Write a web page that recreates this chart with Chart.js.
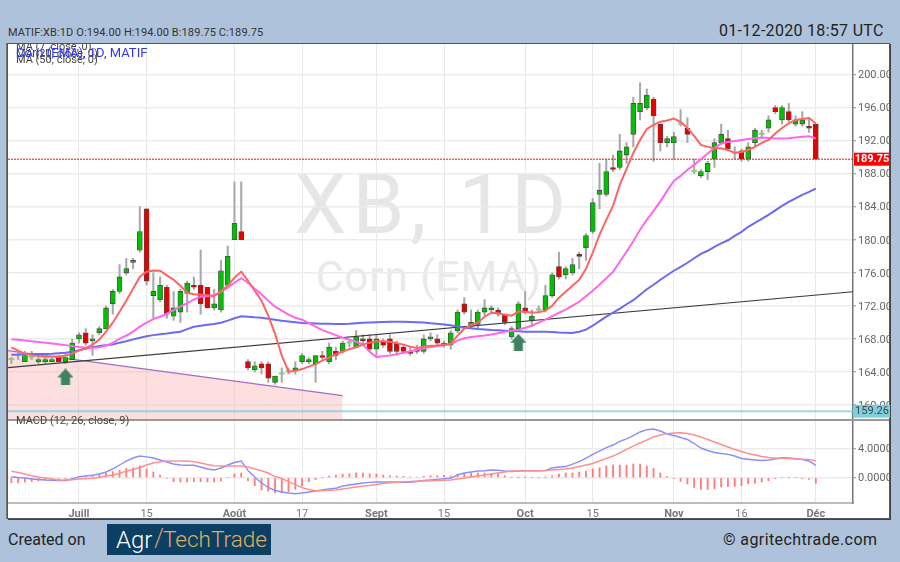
<!DOCTYPE html>
<html>
<head>
<meta charset="utf-8">
<script src="https://cdn.jsdelivr.net/npm/chart.js@4"></script>
<style>
html, body { margin: 0; padding: 0; background: #aec2dc; overflow: hidden; }
body { width: 900px; height: 562px; position: relative; font-family: Roboto, sans-serif; }
div, canvas { position: absolute; }
.txt { white-space: nowrap; }
#panel { left: 7px; top: 43px; width: 881px; height: 474px; background: #fff; border: 1px solid #555; box-shadow: -1px 0 0 #777, 1px 1px 0 #444; }
#sep { left: 8px; top: 419px; width: 881px; height: 2px; background: #999; }
#clip { left: 8px; top: 44px; width: 400px; height: 30px; overflow: hidden; }
#clip .txt { left: 8px; font-size: 11px; color: #444; }
#logo { left: 107px; top: 524px; width: 164px; height: 31px; background: #0b3f63; }
</style>
</head>
<body>
<div class="txt" style="left:8px;top:26px;font-size:11px;color:#333;letter-spacing:.1px">MATIF:XB:1D O:194.00 H:194.00 B:189.75 C:189.75</div>
<div class="txt" style="left:719px;top:21px;font-size:16px;color:#222;letter-spacing:.3px">01-12-2020 18:57 UTC</div>
<div id="panel"></div>
<div class="txt" style="left:294px;top:155px;font-size:84px;color:#e6e6e6;letter-spacing:5.5px">XB, 1D</div>
<div class="txt" style="left:316px;top:252px;font-size:42px;color:#e9e9e9;letter-spacing:1px">Corn (EMA)</div>
<canvas id="mainChart" width="882" height="376" style="left:8px;top:44px"></canvas>
<canvas id="macdChart" width="882" height="98" style="left:8px;top:420px"></canvas>
<div id="sep"></div>
<div id="clip">
  <div class="txt" style="top:-4px">MA (7, close, 0)</div>
  <div class="txt" style="top:3px">MA (20, close, 0)</div>
  <div class="txt" style="top:9px">MA (50, close, 0)</div>
  <div class="txt" style="top:1px;font-size:13px;color:#3535f0">Corn (EMA), 1D, MATIF</div>
</div>
<div class="txt" style="left:16px;top:414px;font-size:11px;color:#444">MACD (12, 26, close, 9)</div>
<div class="txt" style="left:8px;top:530px;font-size:16px;color:#222">Created on</div>
<div id="logo">
  <div class="txt" style="left:9px;top:2px;font-size:24px;font-weight:300;color:#fff">Agr</div>
  <div class="txt" style="left:47px;top:0;font-size:25px;font-weight:300;color:#c9a25a">/</div>
  <div class="txt" style="left:56px;top:2px;font-size:22.5px;font-weight:300;color:#e0ae5e">TechTrade</div>
</div>
<div class="txt" style="left:723px;top:530px;font-size:16px;color:#222;letter-spacing:.4px">© agritechtrade.com</div>

<script>
// candles, one row of ten per line
const openVals = [
    165.5, 166, 165.25, 165.75, 165.25, 165.25, 165.25, 165.75, 165.25, 165.5,
    168, 168.75, 167.75, 168.75, 169.25, 172.25, 173.75, 176, 177.25, 178.75,
    183.75, 173.25, 172.75, 174.25, 170.75, 171.25, 173.5, 174.5, 174.5, 174.25,
    171.75, 171.5, 174.5, 180, 181, 165.25, 164.25, 165, 165, 162.75,
    163.75, 164, 164.25, 165.25, 165.25, 165, 166, 165.25, 166.5, 166.5,
    167.5, 167, 168, 168, 166.75, 167.75, 168, 167.5, 167, 166.5,
    166.75, 166.5, 168, 168, 167.25, 167.25, 169, 172.25, 169.5, 169.75,
    171.25, 171.5, 171.5, 171, 168.25, 169.25, 171.75, 170.25, 171.5, 171.5,
    173.25, 176.75, 175.75, 176, 178.25, 179, 181, 185.5, 185.5, 188.75,
    188.75, 190.25, 192.75, 195.5, 196, 197, 194, 191.75, 191.75, 194,
    193.5, 188.25, 187.75, 188.25, 189.75, 191.75, 192.25, 190.5, 190.75, 189.75,
    191.75, 192.75, 193.5, 196, 194.5, 195.5, 194, 194, 193.75, 194,
];
const closeVals = [
    165.5, 166, 166, 165.75, 165.5, 165.5, 165.5, 165.25, 165.75, 167.5,
    168.5, 167.5, 168, 169.25, 171.75, 173.75, 175.5, 176.5, 177.5, 181,
    175, 173.75, 174.5, 171, 171.75, 173.75, 174.75, 174.25, 172.25, 171.75,
    172.25, 176.25, 178, 182, 180, 164.5, 164.75, 164.5, 163.25, 163.5,
    163.75, 164, 164.5, 166, 165.5, 166, 165.75, 167, 166, 167.5,
    167.5, 168.25, 167.75, 166.75, 168, 167.25, 166.5, 166.5, 166.5, 166.25,
    166.5, 168, 168.25, 167.5, 167.5, 168.75, 171.25, 171.25, 170, 171.25,
    171.75, 171.75, 171, 170, 169.25, 172.25, 171.25, 170.75, 171.5, 173.25,
    175.75, 175.5, 176.5, 177, 178, 180.5, 184.5, 186, 188.25, 188.5,
    190.75, 191.25, 196.5, 196.5, 197.5, 195, 191.75, 192.25, 192.5, 194,
    192.75, 188.25, 188.25, 189.25, 191.75, 192.75, 191, 190.5, 189.75, 191.25,
    193.25, 192.75, 194.5, 195.5, 196, 194.5, 194.5, 194.5, 193.5, 189.75,
];
const highVals = [
    165.75, 166.5, 166.5, 166.5, 166.25, 166, 165.75, 166, 166.25, 168,
    168.75, 169.25, 168.5, 169.5, 172, 174, 177, 177.75, 177.75, 184,
    183.75, 176, 175.5, 174.5, 173.75, 174, 175, 175.5, 178.75, 174.25,
    174, 177.5, 179.25, 187, 187, 165.5, 165.25, 165.25, 165.25, 163.5,
    164.5, 164.5, 165.25, 166.25, 165.75, 166, 166.5, 167.5, 167, 167.75,
    167.75, 169, 168.5, 168.5, 168.5, 168, 168.5, 167.75, 167.25, 167,
    167.25, 168.5, 168.75, 168.5, 167.75, 169, 171.5, 173, 171.5, 171.5,
    172.75, 172, 171.75, 171, 169.5, 172.5, 173.75, 171.5, 172, 174.5,
    176, 178.5, 176.75, 177.75, 178.5, 180.75, 185, 189.25, 189.75, 190.25,
    192.75, 191.75, 197.25, 199, 198.25, 197.25, 194, 192.5, 193, 195.75,
    194.75, 189.75, 188.5, 189.5, 192.25, 194, 193.25, 191.25, 191, 191.75,
    193.5, 193.25, 195, 196.25, 196.25, 196.5, 195, 195.5, 194.75, 194,
];
const lowVals = [
    165, 165.5, 165.25, 165.5, 165, 165, 165.25, 165.25, 165, 165.5,
    167.5, 167.25, 166, 168.5, 169.25, 171, 173.5, 175.75, 176.5, 178.5,
    174.5, 170.5, 172.5, 170.5, 170.25, 170, 171.25, 174, 171, 171.75,
    171.5, 171.25, 174.25, 180, 180, 164.25, 164, 163.75, 162.75, 162.5,
    162.75, 163.75, 163.75, 165, 165, 162.75, 165.5, 165, 165.5, 166.25,
    167, 167, 167.25, 166.5, 166, 167, 166.25, 166, 166.25, 166,
    166.25, 166.25, 167.75, 167.25, 167, 166.75, 168.75, 171, 169.25, 169.25,
    170.75, 171.25, 170.75, 169.75, 168, 169, 171, 169.5, 171.25, 171.25,
    173, 175.25, 175.25, 175.75, 176.5, 177.5, 180.75, 183.75, 185.25, 188.25,
    188.5, 189.25, 191.25, 194.5, 195.75, 189.5, 190.75, 191.25, 189.75, 193.75,
    191.75, 188, 187.5, 187.25, 188.75, 191.5, 190.75, 189.75, 189.5, 189.5,
    191.25, 192.25, 193, 195.25, 194, 194.25, 193.75, 193.75, 193, 189.75,
];

// moving averages
const ema7Vals = [
    166.97, 166.58, 166.22, 166.04, 165.92, 165.86, 165.86, 165.88, 165.98, 166.22,
    166.58, 166.88, 167.3, 167.91, 168.88, 169.97, 171.3, 172.62, 174.07, 175.52,
    176.13, 176.29, 176.25, 175.7, 175.16, 174.44, 173.59, 173.41, 173.35, 173.29,
    173.23, 173.77, 174.44, 175.4, 176.13, 175.04, 173.83, 172.62, 170.81, 168.64,
    165.98, 164.04, 164.16, 164.35, 164.65, 164.95, 165.37, 165.74, 166.16, 166.46,
    166.76, 167, 167.31, 167.55, 167.71, 167.73, 167.67, 167.49, 167.31, 167.07,
    166.91, 167.07, 167.19, 167.22, 167.27, 167.43, 168.4, 169.24, 169.66, 169.97,
    170.69, 171.17, 171.11, 170.93, 170.81, 171.33, 171.3, 171.21, 171.23, 171.42,
    172.02, 172.99, 173.71, 174.44, 175.16, 176.49, 178.43, 180.6, 182.41, 184.1,
    186.64, 188.58, 190.51, 192.08, 193.41, 193.89, 194.29, 194.44, 194.66, 194.26,
    193.53, 192.57, 191.48, 191.24, 191.08, 191.08, 190.87, 190.51, 190.63, 190.87,
    191.24, 191.72, 192.08, 192.87, 193.53, 194.1, 194.5, 194.62, 194.74, 194.08,
];
const ema20Vals = [
    167.96, 167.91, 167.81, 167.71, 167.63, 167.55, 167.45, 167.36, 167.25, 167.13,
    167.01, 166.92, 166.94, 166.98, 167.19, 167.51, 168.03, 168.4, 168.88, 169.48,
    169.97, 170.39, 170.69, 171.05, 171.48, 171.9, 172.32, 172.75, 173.11, 173.17,
    173.23, 173.71, 174.2, 174.8, 175.34, 174.8, 174.08, 173.41, 172.62, 171.9,
    171.42, 170.93, 170.57, 170.33, 169.91, 169.48, 169.06, 168.76, 168.46, 168.15,
    167.91, 167.67, 167.31, 166.46, 165.8, 165.92, 166, 166.16, 166.34, 166.5,
    166.7, 166.88, 167.03, 167.15, 167.22, 167.37, 167.79, 168.09, 168.24, 168.33,
    168.42, 168.54, 168.7, 168.88, 169, 169.12, 169.36, 169.6, 169.97, 170.33,
    170.75, 171.17, 171.54, 172.02, 172.5, 173.17, 173.83, 174.56, 175.34, 176.13,
    177.34, 178.55, 179.82, 181.21, 182.41, 183.5, 184.65, 185.92, 187.13, 187.73,
    188.46, 189.06, 189.73, 190.45, 191.12, 191.66, 191.84, 191.96, 192.08, 192.2,
    192.29, 192.38, 192.32, 192.26, 192.24, 192.29, 192.38, 192.47, 192.53, 192.26,
];
const ema50Vals = [
    166.1, 166.12, 166.16, 166.18, 166.18, 166.18, 166.2, 166.28, 166.34, 166.46,
    166.64, 166.82, 167.01, 167.15, 167.25, 167.33, 167.55, 167.73, 167.95, 168.15,
    168.33, 168.46, 168.58, 168.67, 168.78, 168.88, 169.18, 169.48, 169.6, 169.72,
    169.81, 169.97, 170.21, 170.51, 170.73, 170.69, 170.61, 170.57, 170.45, 170.33,
    170.21, 170.12, 170.03, 169.93, 169.91, 169.88, 169.85, 169.85, 169.81, 169.81,
    169.85, 169.91, 169.97, 170, 170.03, 170.06, 170.09, 170.09, 170.09, 170.06,
    170.03, 170, 169.91, 169.85, 169.76, 169.66, 169.48, 169.36, 169.28, 169.2,
    169.14, 169.08, 169.04, 169, 168.96, 168.92, 168.88, 168.88, 168.88, 168.88,
    168.85, 168.79, 168.76, 168.72, 168.88, 169.12, 169.6, 170.15, 170.69, 171.17,
    171.66, 172.2, 172.69, 173.35, 174.01, 174.56, 175.16, 175.71, 176.25, 176.73,
    177.22, 177.76, 178.3, 178.67, 179.15, 179.57, 179.94, 180.48, 180.96, 181.57,
    182.05, 182.53, 183.02, 183.56, 184.11, 184.59, 185.01, 185.44, 185.8, 186.2,
];

// MACD pane
const macdVals = [
    0.14, 0.03, -0.04, -0.18, -0.24, -0.31, -0.35, -0.39, -0.38, -0.18,
    0.14, 0.23, 0.34, 0.5, 0.78, 1.21, 1.73, 2.27, 2.68, 2.95,
    2.84, 2.68, 2.41, 2.14, 1.86, 1.73, 1.69, 1.69, 1.46, 1.18,
    1.05, 1.32, 1.73, 2.07, 2.27, 0.98, 0.1, -0.72, -1.33, -1.74,
    -1.95, -2.08, -2.18, -2.08, -1.95, -1.81, -1.67, -1.54, -1.44, -1.13,
    -0.99, -0.86, -0.72, -0.63, -0.59, -0.59, -0.59, -0.59, -0.61, -0.63,
    -0.52, -0.38, -0.31, -0.22, -0.14, -0.08, 0.37, 0.64, 0.78, 0.91,
    0.95, 1.05, 1.02, 0.91, 0.84, 0.91, 0.95, 0.95, 0.95, 0.98,
    1.32, 1.46, 1.52, 1.86, 2.2, 2.68, 3.16, 3.63, 4.08, 4.45,
    4.93, 5.27, 5.74, 6.22, 6.53, 6.63, 6.35, 5.95, 5.74, 5.47,
    5.2, 4.65, 4.04, 3.7, 3.43, 3.29, 3.18, 2.95, 2.61, 2.52,
    2.41, 2.34, 2.41, 2.54, 2.71, 2.68, 2.59, 2.48, 2.27, 1.69,
];
const signalVals = [
    0.87, 0.71, 0.5, 0.27, 0.1, -0.04, -0.18, -0.31, -0.31, -0.27,
    -0.18, -0.14, -0.08, 0.03, 0.23, 0.37, 0.57, 0.91, 1.12, 1.39,
    1.73, 2, 2.14, 2.27, 2.27, 2.27, 2.27, 2.18, 2, 1.8,
    1.63, 1.59, 1.59, 1.59, 1.59, 1.46, 1.18, 0.95, 0.64, 0.16,
    -0.11, -0.52, -0.93, -1.36, -1.61, -1.77, -1.74, -1.71, -1.67, -1.54,
    -1.4, -1.27, -1.13, -1.06, -0.93, -0.79, -0.68, -0.63, -0.56, -0.52,
    -0.45, -0.45, -0.41, -0.37, -0.34, -0.31, -0.18, -0.04, 0.1, 0.23,
    0.37, 0.5, 0.64, 0.78, 0.91, 0.91, 0.94, 0.95, 0.95, 0.98,
    1.05, 1.12, 1.18, 1.32, 1.52, 1.73, 1.93, 2.27, 2.61, 2.95,
    3.36, 3.84, 4.31, 4.72, 5.13, 5.54, 5.81, 5.99, 6.08, 6.11,
    6.01, 5.81, 5.54, 5.2, 4.86, 4.52, 4.18, 3.84, 3.56, 3.29,
    3.09, 2.88, 2.75, 2.68, 2.64, 2.59, 2.54, 2.52, 2.5, 2.31,
];
const histVals = [
    -0.68, -0.68, -0.59, -0.5, -0.45, -0.32, -0.27, -0.18, -0.14, -0.05,
    0.1, 0.23, 0.27, 0.41, 0.64, 0.82, 1, 1.27, 1.36, 1.63,
    1.18, 0.77, 0.36, -0.09, -0.54, -0.59, -0.59, -0.54, -0.54, -0.59,
    -0.59, -0.45, 0, 0.5, 0.64, -0.41, -1.09, -1.68, -1.81, -2.04,
    -2.04, -1.9, -1.59, -1.13, -0.54, -0.27, 0, 0.23, 0.36, 0.5,
    0.54, 0.64, 0.64, 0.54, 0.5, 0.36, 0.27, 0.23, 0.18, 0.1,
    0.1, 0.18, 0.27, 0.27, 0.32, 0.23, 0.5, 0.64, 0.64, 0.64,
    0.64, 0.59, 0.5, 0.27, 0.09, 0.05, 0.05, 0, 0, 0.05,
    0.27, 0.5, 0.64, 0.64, 0.77, 0.86, 1.18, 1.36, 1.59, 1.72,
    1.72, 1.72, 1.86, 1.86, 1.59, 1.27, 0.64, 0.18, -0.14, -0.5,
    -0.86, -1.32, -1.59, -1.59, -1.5, -1.27, -1.22, -1.18, -1.09, -0.82,
    -0.73, -0.59, -0.41, -0.14, 0, 0, 0, -0.14, -0.23, -0.73,
];

// axes
const tickIdx = [10, 20, 33, 43, 54, 64, 76, 86, 98, 108, 119];
const tickLabels = ["Juill", "15", "Août", "17", "Sept", "15", "Oct", "15", "Nov", "16", "Déc"];
const priceTicks = [160, 164, 168, 172, 176, 180, 184, 188, 192, 196, 200];
const macdTicks = [0, 4];
const xRange = [-0.5, 124.5];
const priceRange = [158.19, 203.69];
const macdRange = [-3.44, 7.85];

// drawn lines and levels
const blackTrendX = [-0.5, 124.5];
const blackTrendY = [164.53, 173.71];
const purpleTrendX = [-0.5, 49];
const purpleTrendY = [166.58, 161.14];
const lastPrice = 189.75;
const supportLevel = 159.26;
const arrowX = [8, 75];
const arrowY = [163.4, 167.6];

function seq(vals) {
    return vals.map(function (v, i) { return { x: i, y: v }; });
}

function pairs(xs, ys) {
    return xs.map(function (x, i) { return { x: x, y: ys[i] }; });
}

function candleColor(ctx) {
    var i = ctx.dataIndex;
    if (closeVals[i] > openVals[i]) return "#00c000";
    if (closeVals[i] < openVals[i]) return "#e80000";
    return "#7fd07f";
}

// small picture for the up arrows
function makeArrow() {
    var c = document.createElement("canvas");
    c.width = 16;
    c.height = 17;
    var g = c.getContext("2d");
    g.fillStyle = "#3f8261";
    g.beginPath();
    g.moveTo(8, 0);
    g.lineTo(16, 9);
    g.lineTo(12.5, 9);
    g.lineTo(12.5, 17);
    g.lineTo(3.5, 17);
    g.lineTo(3.5, 9);
    g.lineTo(0, 9);
    g.closePath();
    g.fill();
    return c;
}

// value boxes on the right axis
const priceTagPlugin = {
    id: "priceTags",
    afterDraw: function (chart) {
        var g = chart.ctx;
        var s = chart.scales.y;
        [[lastPrice, "#ff0000", "#fff", "bold"], [supportLevel, "#7fcfdd", "#444", "normal"]].forEach(function (t) {
            var y = s.getPixelForValue(t[0]);
            g.save();
            g.fillStyle = t[1];
            g.fillRect(s.left + 1, y - 6.5, 36, 13);
            g.fillStyle = t[2];
            g.font = t[3] + " 11px Roboto";
            g.textAlign = "center";
            g.textBaseline = "middle";
            g.fillText(t[0].toFixed(2), s.left + 19, y + 0.5);
            g.restore();
        });
    },
};

function xScale(showLabels) {
    return {
        type: "linear",
        offset: false,
        min: xRange[0],
        max: xRange[1],
        afterBuildTicks: function (scale) {
            scale.ticks = tickIdx.map(function (v) { return { value: v }; });
        },
        afterFit: function (scale) {
            scale.height = showLabels ? 15 : 0;
            scale.paddingLeft = 0;
            scale.paddingRight = 0;
        },
        grid: { offset: false, color: "#e9e9e9", lineWidth: 1, drawTicks: false },
        border: { display: showLabels, color: "#bbb", width: 2 },
        ticks: {
            display: showLabels,
            autoSkip: false,
            maxRotation: 0,
            padding: 5,
            color: "#777",
            font: function (ctx) {
                var isDay = /^\d+$/.test(tickLabels[ctx.index] || "");
                return { family: "Roboto", size: 11, weight: isDay ? "normal" : "bold" };
            },
            callback: function (v) {
                return tickLabels[tickIdx.indexOf(v)];
            },
        },
    };
}

function yScale(range, tickVals, digits) {
    return {
        position: "right",
        min: range[0],
        max: range[1],
        afterBuildTicks: function (scale) {
            scale.ticks = tickVals.map(function (v) { return { value: v }; });
        },
        afterFit: function (scale) {
            scale.width = 37;
            scale.paddingTop = 0;
            scale.paddingBottom = 0;
        },
        grid: { color: "#ececec", lineWidth: 1.5, tickLength: 3, tickColor: "#888", tickWidth: 1 },
        border: { color: "#777", width: 1.5 },
        ticks: {
            padding: 2,
            labelOffset: 1,
            color: "#666",
            font: { family: "Roboto", size: 11 },
            callback: function (v) { return v.toFixed(digits); },
        },
    };
}

function lineSet(label, data, color, width, order) {
    return {
        type: "line",
        label: label,
        data: data,
        borderColor: color,
        borderWidth: width,
        pointRadius: 0,
        tension: 0,
        order: order,
    };
}

const wickData = highVals.map(function (h, i) { return { x: i, y: [lowVals[i], h] }; });
const bodyData = openVals.map(function (o, i) {
    return { x: i, y: [Math.min(o, closeVals[i]), Math.max(o, closeVals[i])] };
});

var mainDatasets = [
    {
        type: "line",
        label: "Zone",
        data: pairs(purpleTrendX, purpleTrendY),
        borderColor: "#a66cc4",
        borderWidth: 1.3,
        backgroundColor: "rgba(250,170,170,0.38)",
        fill: "start",
        pointRadius: 0,
        order: 9,
    },
    {
        type: "bar",
        label: "Wick",
        data: wickData,
        backgroundColor: "#a8a8a8",
        barThickness: 1.4,
        grouped: false,
        order: 8,
    },
    {
        type: "bar",
        label: "Body",
        data: bodyData,
        backgroundColor: candleColor,
        borderColor: function (ctx) {
            return closeVals[ctx.dataIndex] === openVals[ctx.dataIndex] ? "#7fd07f" : "#4a4a4a";
        },
        borderWidth: function (ctx) {
            return closeVals[ctx.dataIndex] === openVals[ctx.dataIndex] ? 0 : 0.8;
        },
        borderSkipped: false,
        barThickness: 5,
        minBarLength: 1.2,
        grouped: false,
        order: 7,
    },
    lineSet("Level", pairs(xRange, [supportLevel, supportLevel]), "rgba(120,205,220,0.75)", 2, 6),
    lineSet("Last", pairs(xRange, [lastPrice, lastPrice]), "#f01010", 1, 5),
    lineSet("Trend", pairs(blackTrendX, blackTrendY), "#3a3a3a", 1.2, 4),
    lineSet("MA50", seq(ema50Vals), "#6a6af5", 2, 3),
    lineSet("MA20", seq(ema20Vals), "#ff66ee", 2, 2),
    lineSet("MA7", seq(ema7Vals), "#ff6464", 2, 1),
    {
        type: "scatter",
        label: "Arrows",
        data: pairs(arrowX, arrowY),
        pointStyle: makeArrow(),
        order: 0,
    },
];
mainDatasets[4].borderDash = [2, 1];

new Chart(document.getElementById("mainChart"), {
    data: { datasets: mainDatasets },
    options: {
        responsive: false,
        animation: false,
        plugins: { legend: { display: false }, tooltip: { enabled: false } },
        layout: { padding: 0, autoPadding: false },
        scales: { x: xScale(false), y: yScale(priceRange, priceTicks, 2) },
    },
    plugins: [priceTagPlugin],
});

new Chart(document.getElementById("macdChart"), {
    data: {
        datasets: [
            {
                type: "bar",
                label: "Hist",
                data: seq(histVals),
                backgroundColor: "rgba(255,80,80,0.75)",
                barThickness: 1.2,
                order: 3,
            },
            lineSet("MACD", seq(macdVals), "#8c8cff", 1.4, 2),
            lineSet("Signal", seq(signalVals), "#ff9090", 1.4, 1),
        ],
    },
    options: {
        responsive: false,
        animation: false,
        plugins: { legend: { display: false }, tooltip: { enabled: false } },
        layout: { padding: 0, autoPadding: false },
        scales: { x: xScale(true), y: yScale(macdRange, macdTicks, 4) },
    },
});
</script>
</body>
</html>
